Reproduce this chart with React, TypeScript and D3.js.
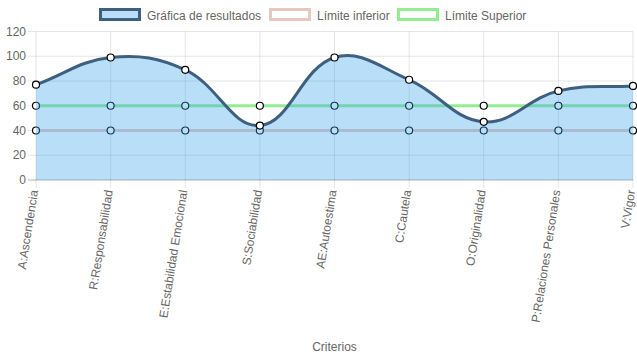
import React from "react";
import * as d3 from "d3";

const categories = [
  "A:Ascendencia",
  "R:Responsabilidad",
  "E:Estabilidad Emocional",
  "S:Sociabilidad",
  "AE:Autoestima",
  "C:Cautela",
  "O:Originalidad",
  "P:Relaciones Personales",
  "V:Vigor",
];
const resultados = [77, 99, 89, 44, 99, 81, 47, 72, 76];
const limiteInferior = [40, 40, 40, 40, 40, 40, 40, 40, 40];
const limiteSuperior = [60, 60, 60, 60, 60, 60, 60, 60, 60];
const yTicks = [0, 20, 40, 60, 80, 100, 120];

const W = 637;
const H = 359;
const FONT = "'Liberation Sans', Arial, Helvetica, sans-serif";

type P = { x: number; y: number };

function splinePath(pts: P[], tension: number, top: number, bottom: number) {
  const cps = pts.map((cur, i) => {
    const prev = pts[i - 1] || cur;
    const next = pts[i + 1] || cur;
    const d01 = Math.hypot(cur.x - prev.x, cur.y - prev.y);
    const d12 = Math.hypot(next.x - cur.x, next.y - cur.y);
    let s01 = d01 / (d01 + d12);
    let s12 = d12 / (d01 + d12);
    if (isNaN(s01)) s01 = 0;
    if (isNaN(s12)) s12 = 0;
    const fa = tension * s01;
    const fb = tension * s12;
    const clamp = (v: number) => Math.max(top, Math.min(bottom, v));
    return {
      px: cur.x - fa * (next.x - prev.x),
      py: clamp(cur.y - fa * (next.y - prev.y)),
      nx: cur.x + fb * (next.x - prev.x),
      ny: clamp(cur.y + fb * (next.y - prev.y)),
    };
  });
  const p = d3.path();
  pts.forEach((pt, i) => {
    if (i === 0) p.moveTo(pt.x, pt.y);
    else p.bezierCurveTo(cps[i - 1].nx, cps[i - 1].ny, cps[i].px, cps[i].py, pt.x, pt.y);
  });
  return p.toString();
}

export default function App() {
  const left = 36;
  const right = 633;
  const top = 31.5;
  const bottom = 180;
  const x = d3.scalePoint<string>().domain(categories).range([left, right]);
  const y = d3.scaleLinear().domain([0, 120]).range([bottom, top]);

  const toPts = (vals: number[]) => vals.map((v, i) => ({ x: x(categories[i])!, y: y(v) }));
  const resPts = toPts(resultados);
  const infPts = toPts(limiteInferior);
  const supPts = toPts(limiteSuperior);

  const resLine = splinePath(resPts, 0.4, top, bottom);
  const resArea =
    resLine + `L${resPts[resPts.length - 1].x},${bottom}L${resPts[0].x},${bottom}Z`;

  const lineGen = d3
    .line<P>()
    .x((d) => d.x)
    .y((d) => d.y);

  const points = (pts: P[]) =>
    pts.map((p, i) => (
      <circle key={i} cx={p.x} cy={p.y} r={3.5} fill="#fff" stroke="#000" strokeWidth={1.2} />
    ));

  const legend = [
    { label: "Gráfica de resultados", x: 99, fill: "rgba(54,162,235,0.35)", stroke: "rgb(62,95,128)" },
    { label: "Límite inferior", x: 269, fill: "#fff", stroke: "rgb(230,200,190)" },
    { label: "Límite Superior", x: 397, fill: "#fff", stroke: "rgb(144,238,144)" },
  ];

  return (
    <svg width={W} height={H} style={{ position: "absolute", left: 0, top: 0 }} fontFamily={FONT}>
      <rect width={W} height={H} fill="#fff" />
      {/* legend */}
      {legend.map((l, i) => (
        <g key={i}>
          <rect x={l.x + 1.5} y={9.5} width={39} height={10} fill={l.fill} stroke={l.stroke} strokeWidth={3} />
          <text x={l.x + 48} y={19.5} fontSize={12} fill="#666">
            {l.label}
          </text>
        </g>
      ))}
      {/* horizontal grid */}
      {yTicks.map((t) => (
        <g key={t}>
          {t !== 0 && (
            <line x1={left - 8} x2={right} y1={y(t)} y2={y(t)} stroke="rgba(0,0,0,0.1)" strokeWidth={1} />
          )}
          <text x={26} y={y(t)} dy="0.35em" textAnchor="end" fontSize={12} fill="#666">
            {t}
          </text>
        </g>
      ))}
      {/* vertical grid */}
      {categories.map((c) => (
        <line key={c} x1={x(c)} x2={x(c)} y1={top} y2={bottom + 8} stroke="rgba(0,0,0,0.1)" strokeWidth={1} />
      ))}
      <line x1={left - 8} x2={right} y1={bottom} y2={bottom} stroke="rgba(0,0,0,0.15)" strokeWidth={2} />
      {/* datasets drawn in reverse order */}
      <path d={lineGen(supPts)!} fill="none" stroke="rgb(144,238,144)" strokeWidth={3} />
      {points(supPts)}
      <path d={lineGen(infPts)!} fill="none" stroke="rgb(230,200,190)" strokeWidth={3} />
      {points(infPts)}
      <path d={resArea} fill="rgba(54,162,235,0.35)" stroke="none" />
      <path d={resLine} fill="none" stroke="rgb(62,95,128)" strokeWidth={3} />
      {points(resPts)}
      {/* x labels */}
      {categories.map((c) => (
        <text
          key={c}
          transform={`translate(${x(c)! - 2},${bottom + 10}) rotate(-81)`}
          textAnchor="end"
          dy="0.35em"
          fontSize={12}
          fill="#666"
        >
          {c}
        </text>
      ))}
      <text x={(left + right) / 2} y={351} textAnchor="middle" fontSize={12} fill="#666">
        Criterios
      </text>
    </svg>
  );
}
